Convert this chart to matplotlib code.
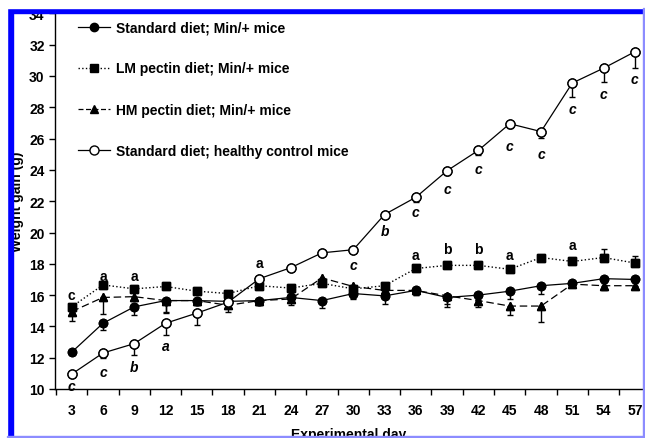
import matplotlib.pyplot as plt
from matplotlib.lines import Line2D
from matplotlib.patches import Rectangle
import numpy as np

plt.rcParams['font.family'] = ['Liberation Sans', 'DejaVu Sans']
plt.rcParams['font.weight'] = 'bold'

# experimental days
days = [3, 6, 9, 12, 15, 18, 21, 24, 27, 30, 33, 36, 39, 42, 45, 48, 51, 54, 57]

# standard diet, Min/+ mice
std_min = [12.35, 14.2, 15.25, 15.65, 15.65, 15.6, 15.65, 15.85, 15.65, 16.1, 15.95,
           16.3, 15.85, 16.0, 16.25, 16.6, 16.75, 17.05, 17.0]
std_min_err = [0.2, 0.4, 0.5, 0.7, 0.3, 0.3, 0.3, 0.3, 0.5, 0.3, 0.5,
               0.3, 0.6, 0.3, 0.5, 0.5, 0.2, 0.3, 0.2]

# LM pectin diet, Min/+ mice (error bars upwards)
lm_min = [15.25, 16.65, 16.4, 16.55, 16.25, 16.1, 16.6, 16.45, 16.75, 16.4, 16.6,
          17.7, 17.9, 17.9, 17.65, 18.4, 18.15, 18.4, 18.05]
lm_min_err = [0.15, 0.15, 0.15, 0.15, 0.15, 0.15, 0.15, 0.15, 0.15, 0.15, 0.15,
              0.15, 0.15, 0.15, 0.15, 0.15, 0.15, 0.55, 0.45]

# HM pectin diet, Min/+ mice
hm_min = [14.95, 15.85, 15.9, 15.65, 15.65, 15.35, 15.65, 15.75, 17.1, 16.55, 16.3,
          16.3, 15.95, 15.65, 15.3, 15.3, 16.7, 16.6, 16.6]
hm_min_err = [0.6, 1.05, 0.3, 0.8, 0.3, 0.4, 0.3, 0.4, 0.2, 0.8, 0.5,
              0.3, 0.5, 0.4, 0.55, 1.0, 0.2, 0.3, 0.2]

# standard diet, healthy control mice
std_ctrl = [10.95, 12.3, 12.9, 14.2, 14.85, 15.55, 17.05, 17.75, 18.7, 18.9, 21.15,
            22.25, 23.95, 25.25, 26.95, 26.45, 29.55, 30.5, 31.55]
std_ctrl_err = [0.2, 0.3, 0.75, 0.75, 0.75, 0.3, 0.2, 0.2, 0.1, 0.1, 0.2,
                0.3, 0.3, 0.3, 0.3, 0.4, 0.9, 0.9, 1.05]

# significance letters: upright above, italic below the control line
up_days = [3, 6, 9, 21, 36, 39, 42, 45, 51]
up_text = ['c', 'a', 'a', 'a', 'a', 'b', 'b', 'a', 'a']
up_y = [16.0, 17.25, 17.25, 18.05, 18.55, 18.95, 18.95, 18.55, 19.2]

it_days = [3, 6, 9, 12, 30, 33, 36, 39, 42, 45, 48, 51, 54, 57]
it_text = ['c', 'c', 'b', 'a', 'c', 'b', 'c', 'c', 'c', 'c', 'c', 'c', 'c', 'c']
it_y = [10.2, 11.1, 11.4, 12.75, 17.9, 20.1, 21.3, 22.8, 24.05, 25.55, 25.0, 27.9, 28.85, 29.8]

W, H = 645, 439
fig = plt.figure(figsize=(W / 100, H / 100), dpi=100)
ax = fig.add_axes([55 / W, 1 - 390 / H, (643 - 55) / W, (390 - 14.4) / H])

zeros = np.zeros(len(days))
eb = dict(ecolor='black', elinewidth=1.0, capsize=2.5, capthick=1.0)

ax.errorbar(days, std_min, yerr=[std_min_err, zeros], fmt='o', color='black', ms=6, **eb)
ax.errorbar(days, lm_min, yerr=[zeros, lm_min_err], fmt='s', color='black', ms=6, **eb)
ax.errorbar(days, hm_min, yerr=[hm_min_err, zeros], fmt='^', color='black', ms=6, **eb)
ax.errorbar(days, std_ctrl, yerr=[std_ctrl_err, zeros], fmt='o', color='black',
            mfc='white', ms=6.5, **eb)

ax.plot(days, std_min, '-', color='black', lw=0.9)
ax.plot(days, lm_min, ':', color='black', lw=1.0)
ax.plot(days, hm_min, color='black', lw=0.9, dashes=(6, 3))
ax.plot(days, std_ctrl, '-', color='black', lw=0.9)

# replot markers on top of the lines
ax.plot(days, std_min, 'o', color='black', ms=6)
ax.plot(days, lm_min, 's', color='black', ms=6)
ax.plot(days, hm_min, '^', color='black', ms=6)
ax.plot(days, std_ctrl, 'o', color='black', mfc='white', ms=6.5, mew=1.0)

for d, t, y in zip(up_days, up_text, up_y):
    ax.text(d, y, t, ha='center', va='center', fontsize=10, fontweight='bold')
for d, t, y in zip(it_days, it_text, it_y):
    ax.text(d, y, t, ha='center', va='center', fontsize=10, fontweight='bold',
            style='italic')

ax.set_xlim(1.4, 57.78)
ax.set_ylim(10, 34)
ax.set_xticks(np.arange(1.5, 58, 3))
ax.set_xticklabels([])
ax.set_xticks(days, minor=True)
ax.set_xticklabels([str(d) for d in days], minor=True)
ax.tick_params(axis='x', which='major', direction='out', length=4, width=1)
ax.tick_params(axis='x', which='minor', length=0, pad=10, labelsize=10)
ax.set_yticks(range(10, 35, 2))
ax.tick_params(axis='y', direction='out', length=4, width=1, labelsize=10)
for lab in ax.get_xticklabels(minor=True) + ax.get_yticklabels():
    lab.set_fontweight('bold')

for s in ['top', 'right']:
    ax.spines[s].set_visible(False)
for s in ['left', 'bottom']:
    ax.spines[s].set_linewidth(1.0)

ax.set_xlabel('Experimental day', fontsize=10, fontweight='bold', labelpad=7)
ax.set_ylabel('Weight gain (g)', fontsize=10, fontweight='bold', labelpad=4)

handles = [
    Line2D([], [], color='black', lw=0.9, marker='o', ms=6),
    Line2D([], [], color='black', lw=1.0, ls=':', marker='s', ms=6),
    Line2D([], [], color='black', lw=0.9, dashes=(4, 2), marker='^', ms=6),
    Line2D([], [], color='black', lw=0.9, marker='o', mfc='white', ms=6.5),
]
labels = ['Standard diet; Min/+ mice', 'LM pectin diet; Min/+ mice',
          'HM pectin diet; Min/+ mice', 'Standard diet; healthy control mice']
ax.legend(handles, labels, loc='upper left', bbox_to_anchor=(23 / 588, 1 - 7 / 375.6),
          frameon=False, handlelength=2.3, handletextpad=0.4,
          labelspacing=1.95, borderaxespad=0, borderpad=0,
          prop={'weight': 'bold', 'size': 10})

# blue page frame
fig.patches.append(Rectangle((0, 1 - 14 / H), 1, 4.7 / H, transform=fig.transFigure,
                             color='#0000ff', zorder=10))
fig.patches.append(Rectangle((7 / W, 0), 5.8 / W, 1 - 9.3 / H, transform=fig.transFigure,
                             color='#0000ff', zorder=10))
fig.patches.append(Rectangle((0, 1 - 9.3 / H), 1, 9.3 / H, transform=fig.transFigure,
                             color='white', zorder=10))
fig.patches.append(Rectangle((0, 0), 7 / W, 1, transform=fig.transFigure,
                             color='white', zorder=10))
fig.patches.append(Rectangle((642.5 / W, 0), 1.5 / W, 1 - 9.3 / H, transform=fig.transFigure,
                             color='#8c8cff', zorder=10))
fig.patches.append(Rectangle((7 / W, 1 / H), 1, 1.5 / H, transform=fig.transFigure,
                             color='#8c8cff', zorder=10))

fig.savefig('out.png', dpi=100)
